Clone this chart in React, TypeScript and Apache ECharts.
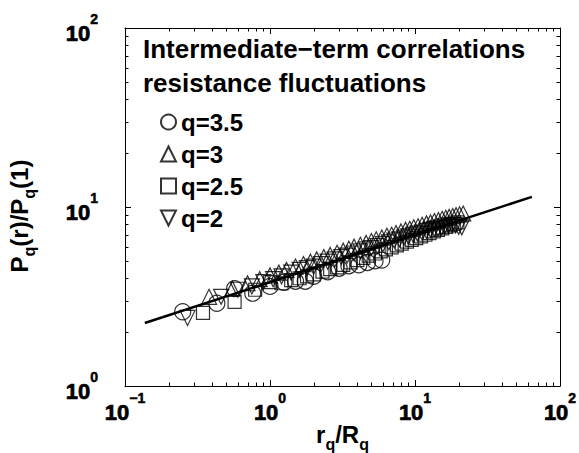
import React, { useEffect, useRef } from "react";
import * as echarts from "echarts";

const FONT = "Liberation Sans, Arial, Helvetica, sans-serif";

// q = 3.5 (circles)
const circleX = [0.25, 0.43, 0.57, 0.76, 1.0, 1.25, 1.5, 1.75, 2.0, 2.5, 3.0, 3.5, 4.1, 4.7, 5.3, 5.9];
const circleY = [2.6, 2.9, 3.5, 3.3, 3.6, 3.8, 3.85, 3.85, 4.1, 4.35, 4.55, 4.7, 4.75, 4.9, 5.0, 5.05];

// q = 3 (up triangles)
const triUpX = [0.38, 0.55, 0.7, 0.85, 1.0, 1.15, 1.3, 1.5, 1.7, 1.9, 2.1, 2.35, 2.6, 2.9, 3.2, 3.5, 3.8, 4.2, 4.6, 5.0, 5.4, 5.9, 6.4, 6.9, 7.4, 8.0, 8.6, 9.2, 9.8, 10.5, 11.2, 12.0, 12.8, 13.6, 14.5, 15.4, 16.3, 17.2, 18.2, 19.2, 20.3, 21.5];
const triUpY = [3.15, 3.5, 3.75, 3.95, 4.15, 4.3, 4.45, 4.65, 4.8, 4.95, 5.1, 5.25, 5.4, 5.55, 5.7, 5.85, 6.0, 6.15, 6.3, 6.45, 6.6, 6.75, 6.9, 7.0, 7.15, 7.3, 7.45, 7.55, 7.7, 7.8, 7.95, 8.1, 8.2, 8.35, 8.45, 8.6, 8.7, 8.8, 8.9, 9.0, 9.1, 9.2];

// q = 2.5 (squares)
const squareX = [0.345, 0.57, 0.79, 1.0, 1.2, 1.4, 1.6, 1.8, 2.0, 2.3, 2.6, 2.9, 3.2, 3.6, 4.0, 4.4, 4.8, 5.3, 5.8, 6.3, 6.9, 7.5, 8.1, 8.8, 9.5, 10.2, 11.0, 11.8, 12.6, 13.5, 14.4, 15.4, 16.4, 17.4, 18.5, 19.6];
const squareY = [2.56, 2.95, 3.45, 3.8, 3.75, 3.9, 4.0, 4.1, 4.2, 4.35, 4.5, 4.6, 4.75, 4.9, 5.05, 5.2, 5.35, 5.5, 5.65, 5.8, 5.95, 6.1, 6.25, 6.4, 6.55, 6.7, 6.85, 7.0, 7.15, 7.3, 7.45, 7.6, 7.75, 7.9, 8.05, 8.2];

// q = 2 (down triangles)
const triDownX = [0.27, 0.46, 0.6, 0.75, 0.9, 1.05, 1.2, 1.4, 1.6, 1.8, 2.0, 2.25, 2.5, 2.8, 3.1, 3.4, 3.8, 4.2, 4.6, 5.0, 5.5, 6.0, 6.6, 7.2, 7.8, 8.4, 9.0, 9.7, 10.4, 11.2, 12.0, 12.8, 13.6, 14.4, 15.2, 16.0, 17.0, 18.0, 19.0, 20.0, 21.0];
const triDownY = [2.4, 3.15, 3.45, 3.6, 3.8, 3.95, 4.1, 4.3, 4.45, 4.55, 4.65, 4.8, 4.95, 5.1, 5.25, 5.35, 5.5, 5.65, 5.8, 5.9, 6.05, 6.2, 6.35, 6.5, 6.6, 6.75, 6.85, 7.0, 7.1, 7.2, 7.35, 7.45, 7.55, 7.6, 7.7, 7.8, 7.9, 7.95, 7.9, 7.75, 7.7];

// fitted power law line (end points)
const fitX = [0.137, 64];
const fitY = [2.25, 11.4];

const seriesNames = ["q=3.5", "q=3", "q=2.5", "q=2"];
const titleLines = ["Intermediate\u2212term correlations", "resistance fluctuations"];

const xMinor = [0.2, 0.3, 0.4, 0.5, 0.6, 0.7, 0.8, 0.9, 2, 3, 4, 5, 6, 7, 8, 9, 20, 30, 40, 50, 60, 70, 80, 90];
const yMinor = [2, 3, 4, 5, 6, 7, 8, 9, 20, 30, 40, 50, 60, 70, 80, 90];

const zip = (xs: number[], ys: number[]) => xs.map((x, i) => [x, ys[i]]);

const expLabel = (v: number) => {
  const e = Math.round(Math.log10(v));
  const s = e < 0 ? "\u2212" + String(-e) : String(e);
  return "{ten|10}{ex|" + s + "}";
};

const labelRich = {
  ten: {
    fontSize: 22, fontWeight: "bold", fontFamily: FONT, color: "#000", lineHeight: 32, verticalAlign: "bottom",
    textBorderColor: "#000", textBorderWidth: 0.7,
  },
  ex: {
    fontSize: 14, fontWeight: "bold", fontFamily: FONT, color: "#000", lineHeight: 16, verticalAlign: "top",
    textBorderColor: "#000", textBorderWidth: 0.5,
  },
};

const nameRich = {
  main: { fontSize: 24, fontWeight: 700, fontFamily: FONT, color: "#000", lineHeight: 30, verticalAlign: "top" },
  sub: { fontSize: 16, fontWeight: 700, fontFamily: FONT, color: "#000", lineHeight: 20, verticalAlign: "bottom" },
};

const markerStyle = { color: "rgba(0,0,0,0)", borderColor: "#000", borderWidth: 1.2 };

export default function App() {
  const ref = useRef<HTMLDivElement>(null);
  useEffect(() => {
    if (!ref.current) return;
    const chart = echarts.init(ref.current, undefined, { renderer: "svg" });
    const axisLine = { show: true, lineStyle: { color: "#000", width: 1 } };
    const axisTick = { show: true, inside: true, length: 6, lineStyle: { color: "#000", width: 1 } };
    const tickLabel = {
      fontSize: 22, fontWeight: "bold", fontFamily: FONT, color: "#000",
      textStyle: { fontSize: 22, fontWeight: "bold" }, rich: labelRich,
    };
    chart.setOption({
      animation: false,
      backgroundColor: "#fff",
      grid: { left: 125, right: 19, top: 28, bottom: 67, containLabel: false, outerBoundsMode: "none" },
      xAxis: [
        {
          type: "log", logBase: 10, min: 0.1, max: 100, position: "bottom",
          axisLine, axisTick, splitLine: { show: false },
          axisLabel: { formatter: expLabel, margin: 5, ...tickLabel },
          name: "{main|r}{sub|q}{main|/R}{sub|q}", nameLocation: "middle", nameGap: 36, nameMoveOverlap: false,
          nameTextStyle: { fontSize: 24, fontWeight: 700, fontFamily: FONT, color: "#000", rich: nameRich },
        },
        {
          type: "log", logBase: 10, min: 0.1, max: 100, position: "top",
          axisLine, axisTick, splitLine: { show: false }, axisLabel: { show: false },
        },
      ],
      yAxis: [
        {
          type: "log", logBase: 10, min: 1, max: 100, position: "left",
          axisLine, axisTick, splitLine: { show: false },
          axisLabel: { formatter: expLabel, margin: 27, ...tickLabel },
          name: "{main|P}{sub|q}{main|(r)/P}{sub|q}{main|(1)}", nameLocation: "middle", nameGap: 88, nameRotate: 90, nameMoveOverlap: false,
          nameTextStyle: { fontSize: 24, fontWeight: 700, fontFamily: FONT, color: "#000", rich: nameRich, padding: [0, 18, 0, 0] },
        },
        {
          type: "log", logBase: 10, min: 1, max: 100, position: "right",
          axisLine, axisTick, splitLine: { show: false }, axisLabel: { show: false },
        },
      ],
      legend: {
        data: [
          { name: seriesNames[0] },
          { name: seriesNames[1] },
          { name: seriesNames[2] },
          { name: seriesNames[3], icon: "path://M0,0L20,0L10,20Z" },
        ],
        orient: "vertical",
        left: 155,
        top: 105,
        itemWidth: 15,
        itemHeight: 15,
        itemGap: 8,
        textStyle: { fontSize: 24, fontWeight: "bold", fontFamily: FONT, color: "#000" },
      },
      graphic: [
        { type: "text", left: 143, top: 36, style: { text: titleLines[0], font: `bold 26px ${FONT}`, fill: "#000" } },
        { type: "text", left: 143, top: 70, style: { text: titleLines[1], font: `bold 26px ${FONT}`, fill: "#000" } },
      ],
      series: [
        {
          type: "custom", silent: true, xAxisIndex: 0, yAxisIndex: 0, data: [[1, 10]],
          renderItem: (params: any, api: any) => {
            const cs = params.coordSys;
            const children: any[] = [];
            const st = { stroke: "#000", lineWidth: 1 };
            const bottom = cs.y + cs.height, top = cs.y, left = cs.x, right = cs.x + cs.width;
            xMinor.forEach((v) => {
              const px = Math.round(api.coord([v, 10])[0]) + 0.5;
              children.push({ type: "line", shape: { x1: px, y1: bottom, x2: px, y2: bottom - 3.5 }, style: st });
              children.push({ type: "line", shape: { x1: px, y1: top, x2: px, y2: top + 3.5 }, style: st });
            });
            yMinor.forEach((v) => {
              const py = Math.round(api.coord([1, v])[1]) + 0.5;
              children.push({ type: "line", shape: { x1: left, y1: py, x2: left + 3.5, y2: py }, style: st });
              children.push({ type: "line", shape: { x1: right, y1: py, x2: right - 3.5, y2: py }, style: st });
            });
            return { type: "group", children };
          },
        },
        { name: seriesNames[0], type: "scatter", symbol: "circle", symbolSize: 16, itemStyle: markerStyle, data: zip(circleX, circleY) },
        { name: seriesNames[1], type: "scatter", symbol: "triangle", symbolSize: 15, itemStyle: markerStyle, data: zip(triUpX, triUpY) },
        { name: seriesNames[2], type: "scatter", symbol: "rect", symbolSize: 13, itemStyle: markerStyle, data: zip(squareX, squareY) },
        { name: seriesNames[3], type: "scatter", symbol: "triangle", symbolRotate: 180, symbolSize: 15, itemStyle: markerStyle, data: zip(triDownX, triDownY) },
        {
          type: "line", data: zip(fitX, fitY), showSymbol: false, symbol: "none", z: 5,
          lineStyle: { color: "#000", width: 2.5 }, silent: true,
        },
      ],
    });
    return () => chart.dispose();
  }, []);
  return <div ref={ref} style={{ position: "fixed", left: 0, top: 0, width: 579, height: 453, background: "#fff" }} />;
}
